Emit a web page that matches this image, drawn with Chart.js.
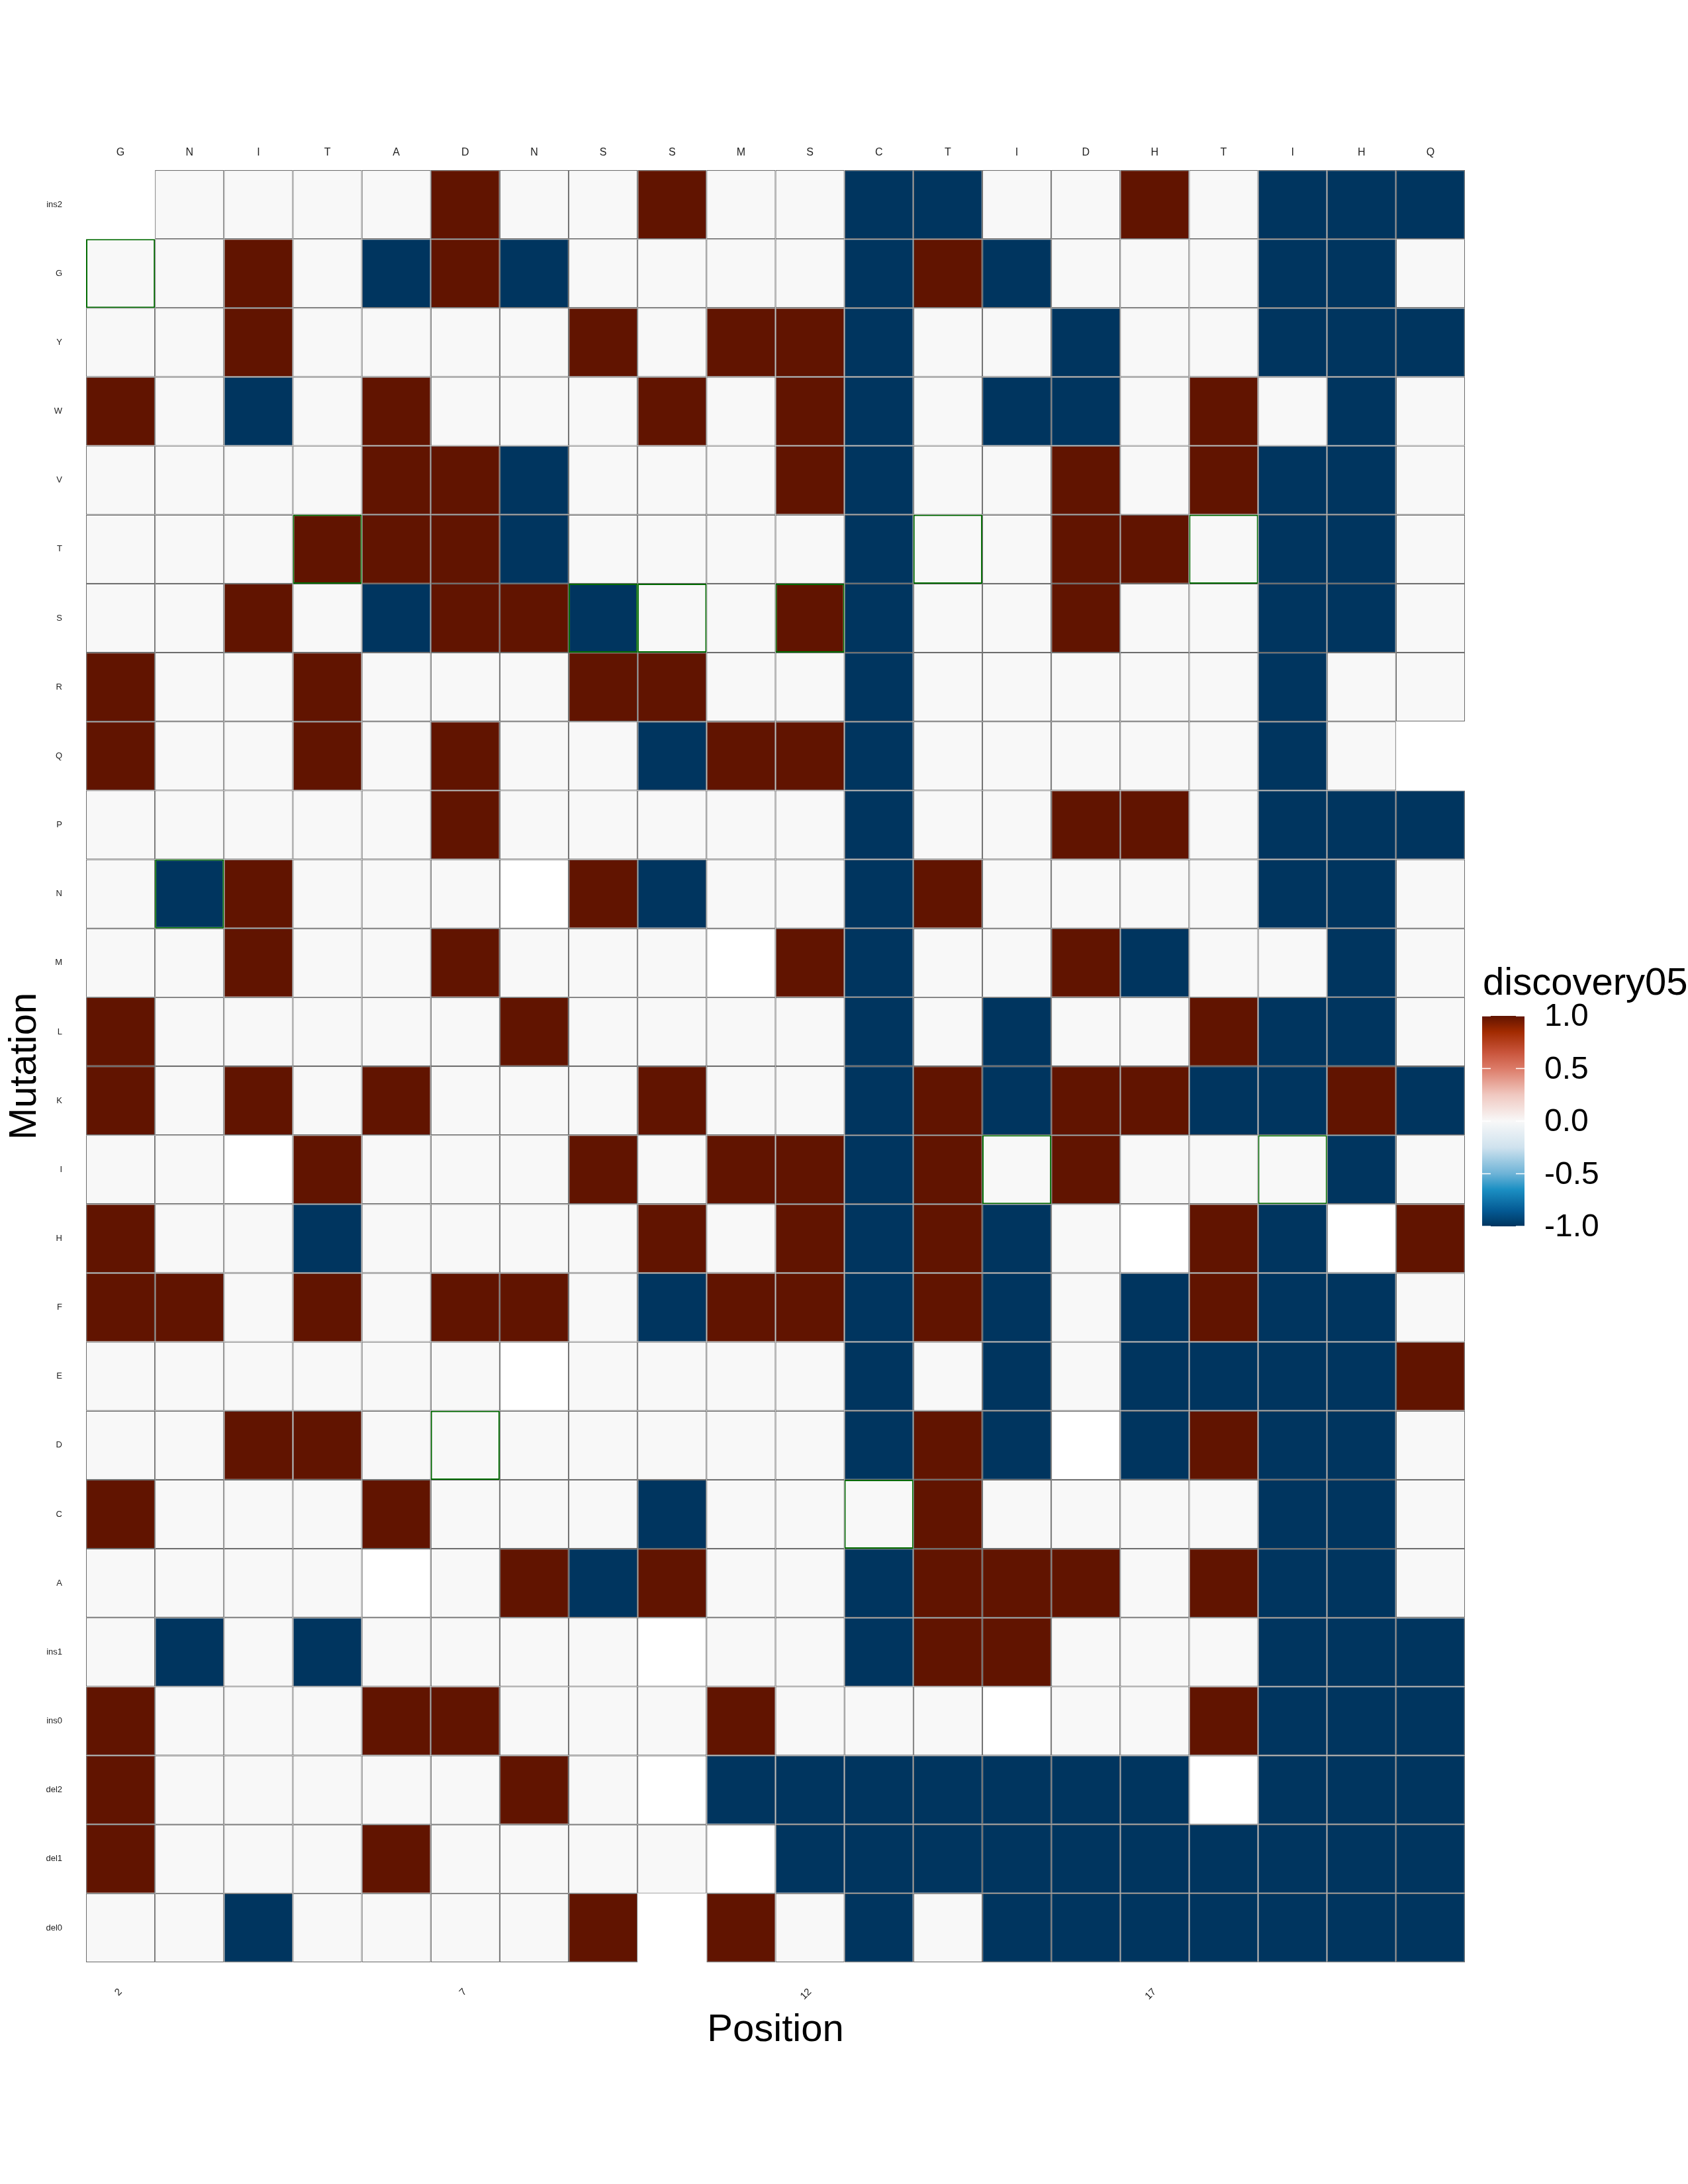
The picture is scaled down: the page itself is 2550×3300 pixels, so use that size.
<!DOCTYPE html>
<html>
<head>
<meta charset="utf-8">
<script src="https://cdn.jsdelivr.net/npm/chart.js@4.4.1/dist/chart.umd.min.js"></script>
<style>
html, body { margin: 0; padding: 0; background: #ffffff; }
canvas { display: block; }
</style>
</head>
<body>
<canvas id="heat" width="2550" height="3300"></canvas>
<script>
// ---------------- data ----------------
const positions = ['2','3','4','5','6','7','8','9','10','11','12','13','14','15','16','17','18','19','20','21'];
const wildType  = ['G','N','I','T','A','D','N','S','S','M','S','C','T','I','D','H','T','I','H','Q'];
const mutations = ['ins2','G','Y','W','V','T','S','R','Q','P','N','M','L','K','I','H','F','E','D','C','A','ins1','ins0','del2','del1','del0'];
const xTickShown = ['2','7','12','17'];

const NA = null;        // value not available (white tile)
const X  = 'absent';    // no tile at all

// discovery05 values, one array per mutation row, positions 2..21
const v_ins2 = [X, 0, 0, 0, 0, 1, 0, 0, 1, 0,   0,-1,-1, 0, 0, 1, 0,-1,-1,-1];
const v_G    = [0, 0, 1, 0,-1, 1,-1, 0, 0, 0,   0,-1, 1,-1, 0, 0, 0,-1,-1, 0];
const v_Y    = [0, 0, 1, 0, 0, 0, 0, 1, 0, 1,   1,-1, 0, 0,-1, 0, 0,-1,-1,-1];
const v_W    = [1, 0,-1, 0, 1, 0, 0, 0, 1, 0,   1,-1, 0,-1,-1, 0, 1, 0,-1, 0];
const v_V    = [0, 0, 0, 0, 1, 1,-1, 0, 0, 0,   1,-1, 0, 0, 1, 0, 1,-1,-1, 0];
const v_T    = [0, 0, 0, 1, 1, 1,-1, 0, 0, 0,   0,-1, 0, 0, 1, 1, 0,-1,-1, 0];
const v_S    = [0, 0, 1, 0,-1, 1, 1,-1, 0, 0,   1,-1, 0, 0, 1, 0, 0,-1,-1, 0];
const v_R    = [1, 0, 0, 1, 0, 0, 0, 1, 1, 0,   0,-1, 0, 0, 0, 0, 0,-1, 0, 0];
const v_Q    = [1, 0, 0, 1, 0, 1, 0, 0,-1, 1,   1,-1, 0, 0, 0, 0, 0,-1, 0, X];
const v_P    = [0, 0, 0, 0, 0, 1, 0, 0, 0, 0,   0,-1, 0, 0, 1, 1, 0,-1,-1,-1];
const v_N    = [0,-1, 1, 0, 0, 0,NA, 1,-1, 0,   0,-1, 1, 0, 0, 0, 0,-1,-1, 0];
const v_M    = [0, 0, 1, 0, 0, 1, 0, 0, 0,NA,   1,-1, 0, 0, 1,-1, 0, 0,-1, 0];
const v_L    = [1, 0, 0, 0, 0, 0, 1, 0, 0, 0,   0,-1, 0,-1, 0, 0, 1,-1,-1, 0];
const v_K    = [1, 0, 1, 0, 1, 0, 0, 0, 1, 0,   0,-1, 1,-1, 1, 1,-1,-1, 1,-1];
const v_I    = [0, 0,NA, 1, 0, 0, 0, 1, 0, 1,   1,-1, 1, 0, 1, 0, 0, 0,-1, 0];
const v_H    = [1, 0, 0,-1, 0, 0, 0, 0, 1, 0,   1,-1, 1,-1, 0,NA, 1,-1,NA, 1];
const v_F    = [1, 1, 0, 1, 0, 1, 1, 0,-1, 1,   1,-1, 1,-1, 0,-1, 1,-1,-1, 0];
const v_E    = [0, 0, 0, 0, 0, 0,NA, 0, 0, 0,   0,-1, 0,-1, 0,-1,-1,-1,-1, 1];
const v_D    = [0, 0, 1, 1, 0, 0, 0, 0, 0, 0,   0,-1, 1,-1,NA,-1, 1,-1,-1, 0];
const v_C    = [1, 0, 0, 0, 1, 0, 0, 0,-1, 0,   0, 0, 1, 0, 0, 0, 0,-1,-1, 0];
const v_A    = [0, 0, 0, 0,NA, 0, 1,-1, 1, 0,   0,-1, 1, 1, 1, 0, 1,-1,-1, 0];
const v_ins1 = [0,-1, 0,-1, 0, 0, 0, 0,NA, 0,   0,-1, 1, 1, 0, 0, 0,-1,-1,-1];
const v_ins0 = [1, 0, 0, 0, 1, 1, 0, 0, 0, 1,   0, 0, 0,NA, 0, 0, 1,-1,-1,-1];
const v_del2 = [1, 0, 0, 0, 0, 0, 1, 0,NA,-1,  -1,-1,-1,-1,-1,-1,NA,-1,-1,-1];
const v_del1 = [1, 0, 0, 0, 1, 0, 0, 0, 0,NA,  -1,-1,-1,-1,-1,-1,-1,-1,-1,-1];
const v_del0 = [0, 0,-1, 0, 0, 0, 0, 1, X, 1,   0,-1, 0,-1,-1,-1,-1,-1,-1,-1];

const discovery05 = [v_ins2, v_G, v_Y, v_W, v_V, v_T, v_S, v_R, v_Q, v_P, v_N, v_M, v_L,
                     v_K, v_I, v_H, v_F, v_E, v_D, v_C, v_A, v_ins1, v_ins0, v_del2, v_del1, v_del0];

// colour scale
const paletteStops  = [-1, -0.85, -0.65, -0.5, -0.25, 0, 0.25, 0.5, 0.65, 0.85, 1];
const paletteColors = ['#00355f','#045a94','#1b8fc3','#6db3d7','#cfe2ee','#f8f8f8','#f0c8c0','#dc7b68','#c9553c','#a12a00','#611400'];
const legendBreaks = [1.0, 0.5, 0.0, -0.5, -1.0];
const naColor = '#ffffff';

// ---------------- helpers ----------------
function hexToRgb(h) { return [parseInt(h.slice(1,3),16), parseInt(h.slice(3,5),16), parseInt(h.slice(5,7),16)]; }
function colorFor(v) {
  if (v === null || v === undefined) return naColor;
  if (v <= paletteStops[0]) return paletteColors[0];
  if (v >= paletteStops[paletteStops.length-1]) return paletteColors[paletteColors.length-1];
  for (let i = 0; i < paletteStops.length - 1; i++) {
    if (v >= paletteStops[i] && v <= paletteStops[i+1]) {
      const t = (v - paletteStops[i]) / (paletteStops[i+1] - paletteStops[i]);
      const a = hexToRgb(paletteColors[i]), b = hexToRgb(paletteColors[i+1]);
      const c = a.map((x, k) => Math.round(x + (b[k] - x) * t));
      return 'rgb(' + c.join(',') + ')';
    }
  }
  return naColor;
}

const nRows = mutations.length;
// one dataset per position (column); wild-type tile drawn last in its column
const datasets = positions.map((pos, c) => {
  const pts = [];
  let wtPoint = null;
  mutations.forEach((mut, r) => {
    const v = discovery05[r][c];
    if (v === X) return;
    const lo = nRows - 1 - r;
    const isWt = (mut === wildType[c]) && v !== NA;
    const p = { x: pos, y: [lo, lo + 1], v: v, wt: isWt };
    if (isWt) wtPoint = p; else pts.push(p);
  });
  if (wtPoint) pts.push(wtPoint);
  return {
    label: pos,
    data: pts,
    backgroundColor: ctx => colorFor(ctx.raw ? ctx.raw.v : null),
    borderColor: ctx => (ctx.raw && ctx.raw.wt) ? '#006a00' : '#6e6e6e',
    borderWidth: ctx => (ctx.raw && ctx.raw.wt) ? 2 : 1.2,
    borderSkipped: false,
    inflateAmount: 0,
    grouped: false,
    barPercentage: 1,
    categoryPercentage: 1
  };
});

// ---------------- legend (colour bar) ----------------
const FONT = "'Liberation Sans', Arial, Helvetica, sans-serif";
const colorbarPlugin = {
  id: 'colorbar',
  afterDraw(chart) {
    const ctx = chart.ctx;
    const L = 2239, R = 2303, T = 1535, B = 1853;
    const yOf = v => T + (1 - v) / 2 * (B - T);
    ctx.save();
    const grad = ctx.createLinearGradient(0, T, 0, B);
    paletteStops.forEach((v, i) => grad.addColorStop((1 - v) / 2, paletteColors[i]));
    ctx.fillStyle = grad;
    ctx.fillRect(L, T, R - L, B - T);
    // ticks
    ctx.strokeStyle = '#ffffff';
    ctx.lineWidth = 1.5;
    legendBreaks.forEach(v => {
      const y = yOf(v);
      ctx.beginPath();
      ctx.moveTo(L, y); ctx.lineTo(L + 13, y);
      ctx.moveTo(R - 13, y); ctx.lineTo(R, y);
      ctx.stroke();
    });
    // labels
    ctx.fillStyle = '#000000';
    ctx.font = '48px ' + FONT;
    ctx.textAlign = 'left';
    ctx.textBaseline = 'middle';
    legendBreaks.forEach(v => ctx.fillText(v.toFixed(1), 2333, yOf(v) + 2));
    // title
    ctx.font = '58px ' + FONT;
    ctx.textBaseline = 'alphabetic';
    ctx.fillText('discovery05', 2240, 1503);
    ctx.restore();
  }
};

Chart.defaults.font.family = FONT;

new Chart(document.getElementById('heat'), {
  type: 'bar',
  data: { labels: positions, datasets: datasets },
  plugins: [colorbarPlugin],
  options: {
    responsive: false,
    animation: false,
    devicePixelRatio: 1,
    layout: { padding: { left: 0, right: 337, top: 200, bottom: 197 } },
    plugins: { legend: { display: false }, tooltip: { enabled: false } },
    scales: {
      x: {
        type: 'category',
        position: 'bottom',
        offset: true,
        grid: { display: false, drawTicks: false },
        border: { display: false },
        ticks: {
          autoSkip: false, minRotation: 45, maxRotation: 45, padding: 36,
          color: '#222222', font: { size: 15 },
          callback: function (value) {
            const lab = this.getLabelForValue(value);
            return xTickShown.includes(lab) ? lab : '';
          }
        },
        title: { display: true, text: 'Position', color: '#000000', font: { size: 58 }, padding: { top: 0, bottom: 0 } },
        afterFit: s => { s.height = 138; }
      },
      xTop: {
        type: 'category',
        position: 'top',
        labels: wildType,
        offset: true,
        grid: { display: false, drawTicks: false },
        border: { display: false },
        ticks: { autoSkip: false, minRotation: 0, maxRotation: 0, padding: 17, color: '#222222', font: { size: 16 } },
        afterFit: s => { s.height = 57; }
      },
      y: {
        type: 'linear',
        position: 'left',
        min: 0,
        max: nRows,
        grid: { display: false, drawTicks: false },
        border: { display: false },
        afterBuildTicks: s => { s.ticks = mutations.map((m, i) => ({ value: nRows - 1 - i + 0.5 })); },
        ticks: {
          autoSkip: false, padding: 36, color: '#222222', font: { size: 13 },
          callback: v => mutations[nRows - 1 - Math.floor(v)]
        },
        title: { display: true, text: 'Mutation', color: '#000000', font: { size: 58 }, padding: { top: 3, bottom: 0 } },
        afterFit: s => { s.width = 130; }
      }
    }
  }
});
</script>
</body>
</html>
